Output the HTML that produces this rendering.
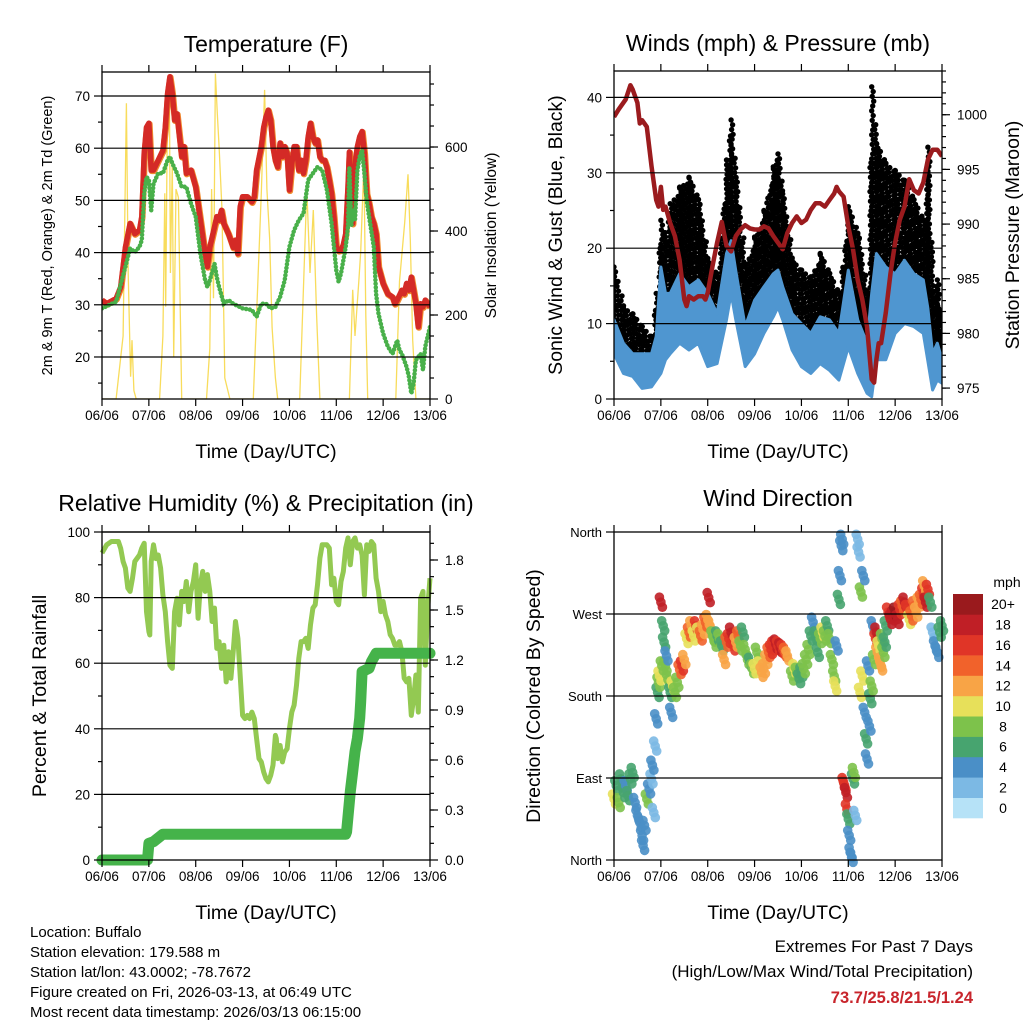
<!DOCTYPE html>
<html><head><meta charset="utf-8"><style>
html,body{margin:0;padding:0;background:#fff;}
svg{display:block;font-family:"Liberation Sans",sans-serif;}
</style></head><body>
<svg id="fig" width="1024" height="1024" viewBox="0 0 1024 1024" xmlns="http://www.w3.org/2000/svg">
<g font-size="15" fill="#000">
<text x="30" y="937">Location: Buffalo</text>
<text x="30" y="957">Station elevation: 179.588 m</text>
<text x="30" y="977">Station lat/lon: 43.0002; -78.7672</text>
<text x="30" y="997">Figure created on Fri, 2026-03-13, at 06:49 UTC</text>
<text x="30" y="1017">Most recent data timestamp: 2026/03/13 06:15:00</text>
</g>
<g text-anchor="end" font-size="17">
<text x="973" y="952">Extremes For Past 7 Days</text>
<text x="973" y="977">(High/Low/Max Wind/Total Precipitation)</text>
<text x="973" y="1003" font-weight="bold" fill="#c8252c" font-size="16.5">73.7/25.8/21.5/1.24</text>
</g>
</svg>
<script>
// ---------------- DATA ----------------
const dayLabels=["06/06","07/06","08/06","09/06","10/06","11/06","12/06","13/06"];
const tempT=[0,0.1,0.3,0.4,0.5,0.6,0.7,0.8,0.85,0.9,0.95,1.0,1.05,1.1,1.2,1.3,1.35,1.4,1.45,1.5,1.55,1.6,1.7,1.75,1.8,1.9,2.0,2.1,2.2,2.25,2.3,2.4,2.45,2.5,2.55,2.6,2.7,2.8,2.85,2.9,2.95,3.0,3.1,3.2,3.25,3.3,3.4,3.45,3.5,3.55,3.6,3.65,3.7,3.75,3.8,3.85,3.9,3.95,4.0,4.05,4.1,4.15,4.2,4.25,4.3,4.35,4.4,4.45,4.5,4.55,4.6,4.65,4.7,4.75,4.8,4.85,4.9,4.95,5.0,5.05,5.1,5.15,5.2,5.25,5.28,5.32,5.35,5.38,5.42,5.45,5.5,5.55,5.6,5.65,5.7,5.75,5.8,5.85,5.9,6.0,6.1,6.2,6.25,6.3,6.4,6.45,6.5,6.55,6.6,6.65,6.7,6.75,6.8,6.85,6.9,7.0];
const tempV=[30.9,30.2,31.2,33.4,41,45.6,43.6,44.3,46.9,59,64,64.8,55.8,55.8,57.7,59.6,64,70.5,73.7,70.5,65.4,66.6,58.4,60.3,55.2,55.8,52.6,46.2,39.8,37.3,41,44.9,46.9,46.2,48.1,45.6,43.6,41,42.4,39.8,48.8,50.7,50.7,49.7,50.7,55.8,60.3,64,66,67.3,65.4,60.3,57.7,56.4,61,58.4,60.3,59,52,57,60.3,60.3,55.8,57.7,55.2,57.7,62.2,64.8,62.2,61,61.6,58.4,57.7,57.7,56.4,53.9,51.3,46.9,41,40.4,40.5,41.5,43.6,52.6,59.3,51.3,45.6,52.6,58.4,60.3,62.2,63.2,59,51.3,49.4,46.9,45.6,43.6,37.3,34.1,32.1,31.5,30.2,30.9,32.8,32.1,34.1,32.8,35.3,32.8,30.2,25.8,30.2,29.6,30.9,29.6];
const dewT=[0,0.3,0.5,0.6,0.7,0.8,0.85,0.9,0.95,1.0,1.05,1.1,1.2,1.3,1.4,1.45,1.5,1.6,1.7,1.8,1.9,2.0,2.1,2.2,2.25,2.3,2.4,2.45,2.5,2.6,2.7,2.8,3.0,3.2,3.3,3.4,3.5,3.6,3.7,3.8,3.9,4.0,4.1,4.2,4.3,4.4,4.5,4.55,4.6,4.7,4.8,4.9,5.0,5.05,5.1,5.2,5.25,5.28,5.32,5.35,5.4,5.45,5.5,5.55,5.6,5.65,5.7,5.8,5.85,5.9,6.0,6.1,6.2,6.3,6.35,6.4,6.5,6.55,6.6,6.65,6.7,6.8,6.85,6.9,7.0];
const dewV=[29.3,30.6,37.3,40.8,40.1,41.1,42.4,51.3,54.5,53.9,48.1,53.2,55.2,55.2,57.7,58.4,57.1,55.2,52.6,52.6,49.4,46.9,39.8,34.7,33.4,34.7,37.9,35.3,33.4,30.2,30.9,30.2,29.3,29,27.7,30.2,30.2,29.3,29.6,31.5,34.7,41.1,44.3,46.2,47.5,53.9,55.2,55.8,56.4,55.8,52,45.6,36.6,34.4,36,41.1,45,56.4,45,48.1,46.2,55.8,58.4,59.6,55.2,50,46.9,41.1,32.1,28.3,24.5,22,20.6,23.2,21.3,20.6,18.1,16.2,13,14.9,19.4,20.6,17.5,22,25.8];
const solT=[0,0.3,0.45,0.52,0.56,0.61,0.64,0.68,0.73,1.23,1.3,1.34,1.36,1.4,1.44,1.46,1.5,1.53,1.58,1.63,1.7,2.23,2.3,2.34,2.38,2.42,2.46,2.5,2.56,2.62,2.73,3.23,3.4,3.47,3.52,3.58,3.63,3.7,3.75,4.22,4.37,4.44,4.51,4.58,4.65,5.28,5.35,5.4,5.48,5.52,5.59,5.63,5.67,6.27,6.35,6.46,6.53,6.58,6.63,6.7,7.0];
const solV=[0,0,150,704,300,53,140,20,0,0,150,490,220,740,696,300,560,100,500,480,0,0,120,500,240,775,680,600,450,50,0,0,490,736,500,380,170,50,0,0,500,300,450,200,0,0,260,150,280,350,560,200,0,0,280,420,535,380,140,0,0];
const windT=[0,0.2,0.4,0.6,0.8,0.9,1.0,1.1,1.2,1.4,1.6,1.8,2.0,2.2,2.4,2.5,2.6,2.8,3.0,3.2,3.4,3.5,3.6,3.8,4.0,4.2,4.4,4.6,4.8,5.0,5.2,5.4,5.5,5.6,5.8,6.0,6.2,6.4,6.6,6.7,6.8,6.9,7.0];
const windLow=[6,3.4,3,1.4,1.6,2.5,3.4,5.2,6,7.4,6.5,7.4,4.3,4.7,10.5,14,10.5,4.3,6,8.7,10.9,12.2,10.5,6.5,4.3,3.4,4.7,3.8,2.5,6.9,3.4,0.75,0.3,5.2,5.2,8.7,10,9.6,8.7,5,1.2,2.5,2.1];
const windHigh=[10.5,7.4,6,6,6,8.3,17.5,14,14,16.6,14.9,15.8,14,11.3,19.3,21,17,9.6,13.1,14.9,16.6,17.1,14.9,11.3,10,8.7,10.9,10.5,8.7,17.1,10.5,7.4,14,19.3,17.5,16.6,18.4,16.6,15.8,12,6,7.4,5.2];
const gustLow=[8,6,5,5,4,6,12,10,10,12,12,12,9,8,14,16,13,7,10,12,13,14,12,8,7,6,8,7,6,12,8,5,10,14,14,13,14,13,12,9,4,5,4];
const gustHigh=[17.5,12.2,11.3,9.6,8.3,14,23.7,21.5,25.9,28.1,29.4,26.4,18.4,16.6,31.7,37,29.4,17.5,21.5,25,30.8,32.5,27.2,18.4,17.1,16.2,19.3,16.6,14,25.5,21.9,14,41.4,33.9,31.2,30.3,29,26.4,23.7,33.4,14,15.8,9.6];
const presT=[0,0.1,0.25,0.35,0.4,0.5,0.55,0.6,0.7,0.8,0.9,0.95,1.0,1.05,1.1,1.2,1.3,1.4,1.5,1.55,1.6,1.7,1.8,1.9,1.95,2.0,2.1,2.2,2.3,2.4,2.5,2.6,2.7,2.8,2.9,3.0,3.1,3.2,3.3,3.4,3.5,3.6,3.7,3.8,3.9,4.0,4.1,4.2,4.3,4.4,4.5,4.6,4.7,4.75,4.8,4.9,5.0,5.1,5.2,5.3,5.4,5.5,5.55,5.6,5.65,5.7,5.8,5.9,6.0,6.1,6.2,6.3,6.4,6.5,6.6,6.7,6.8,6.9,7.0];
const presV=[999.8,1000.5,1001.4,1002.7,1002.3,1001.1,999.2,999.5,998.9,995.3,992.2,991.6,993.4,991.3,991.6,990.1,988.9,986.7,983.1,982.5,983.4,983.1,983.4,983.4,983.1,983.7,986.1,988.3,990.2,988,987.5,988.9,989.5,989.9,989.6,989.5,989.5,989.8,989.6,988.9,988.3,987.7,989.2,990.1,990.7,990.1,990.4,991.3,991.9,991.9,991.6,992.2,992.8,993.4,993,992.5,989.8,987.7,984.9,983.1,980.6,975.8,975.5,977.6,979.1,979.1,981.9,985.5,988.3,990.4,991.6,994.1,993.1,992.8,993.8,995.9,996.8,996.8,996.2];
const rhT=[0,0.1,0.2,0.35,0.4,0.45,0.5,0.55,0.6,0.65,0.7,0.8,0.85,0.9,0.95,1.0,1.02,1.05,1.1,1.15,1.2,1.25,1.3,1.35,1.4,1.45,1.5,1.55,1.6,1.65,1.7,1.75,1.8,1.85,1.9,1.95,2.0,2.05,2.1,2.15,2.2,2.25,2.3,2.35,2.4,2.45,2.5,2.55,2.6,2.65,2.7,2.75,2.8,2.85,2.9,3.0,3.05,3.1,3.15,3.2,3.25,3.3,3.35,3.4,3.45,3.5,3.55,3.6,3.65,3.7,3.72,3.75,3.8,3.85,3.9,3.95,4.0,4.05,4.1,4.15,4.2,4.25,4.3,4.35,4.4,4.45,4.5,4.55,4.6,4.65,4.7,4.8,4.85,4.9,4.95,5.0,5.05,5.1,5.15,5.2,5.25,5.3,5.35,5.4,5.45,5.5,5.55,5.6,5.65,5.7,5.75,5.8,5.85,5.9,5.95,6.0,6.05,6.1,6.15,6.2,6.25,6.3,6.35,6.4,6.45,6.5,6.55,6.6,6.65,6.7,6.75,6.8,6.85,6.9,6.95,7.0];
const rhV=[93.6,96.1,97.1,97.1,95,91,89,82.9,81.9,85.9,91,93,95.1,96.6,75.7,69.6,68.6,91,96.1,91.9,93,89,80.8,75.7,66.6,59.4,58.4,75.7,79.8,71.7,81.9,78.8,84.9,75.7,81.9,84.9,90,73.7,83.9,88,81.9,87,81.9,72.7,76.8,64.5,66.6,58.4,65.5,54.3,63.5,55.4,63.5,72.7,67.6,44.1,43.1,44.1,43.1,45.1,43.1,37,30.9,29.9,26.8,24.8,23.8,25.8,28.9,38,37,30.9,34.9,29.9,32.9,33.9,40,45.1,47.2,53.3,61.5,66.6,66.6,67.6,64.5,71.7,76.8,77.8,83.9,92,96.1,96.1,95.1,83.9,85.9,78.8,77.8,84.9,87.9,95.1,98.2,90,97.1,98.2,95.1,96.1,93,80.8,96.1,94.1,97.1,96.1,85.9,81.9,75.7,78.8,74.7,72.7,68.7,67.6,65.5,65.5,66.6,63.5,55.4,54.3,55.4,44.1,49.2,56.4,45.1,79.8,81.9,59.4,76.8,85.9];
const prT=[0,0.97,1.0,1.1,1.3,5.2,5.22,5.3,5.35,5.4,5.45,5.5,5.52,5.55,5.7,5.75,5.85,7.0];
const prV=[0,0,0.1,0.11,0.155,0.155,0.17,0.41,0.53,0.65,0.73,0.85,0.95,1.13,1.15,1.19,1.24,1.24];
const dirT=[0,0.05,0.1,0.15,0.2,0.25,0.3,0.35,0.4,0.45,0.5,0.55,0.6,0.62,0.65,0.7,0.75,0.8,0.82,0.85,0.88,0.9,0.93,0.95,0.97,1.0,1.02,1.05,1.07,1.1,1.12,1.15,1.2,1.22,1.25,1.3,1.35,1.4,1.45,1.5,1.55,1.6,1.65,1.7,1.75,1.8,1.85,1.9,1.95,2.0,2.02,2.05,2.1,2.15,2.2,2.25,2.3,2.35,2.4,2.45,2.5,2.55,2.6,2.65,2.7,2.75,2.8,2.85,2.9,2.95,3.0,3.05,3.1,3.15,3.2,3.25,3.3,3.35,3.4,3.45,3.5,3.55,3.6,3.65,3.7,3.8,3.85,3.9,3.95,4.0,4.05,4.1,4.15,4.2,4.25,4.3,4.35,4.4,4.45,4.5,4.55,4.6,4.65,4.7,4.72,4.75,4.8,4.82,4.85,4.87,4.9,4.92,4.95,4.97,5.0,5.02,5.05,5.07,5.1,5.12,5.15,5.2,5.22,5.25,5.27,5.3,5.32,5.35,5.38,5.4,5.42,5.45,5.47,5.5,5.52,5.55,5.58,5.6,5.62,5.65,5.68,5.7,5.72,5.75,5.78,5.8,5.85,5.9,5.95,6.0,6.05,6.1,6.15,6.2,6.25,6.3,6.35,6.4,6.45,6.5,6.55,6.6,6.62,6.65,6.7,6.75,6.8,6.85,6.9,6.95,7.0];
const dirV=[67,81.6,63,89,74,81.6,70.6,89,96,63,49,41,27,16,38,67,78,89,104,52,125,155,184,195,202,283,213,257,239,213,224,198,184,162,191,184,195,209,213,220,243,250,257,246,257,250,246,253,261,264,288,257,246,239,246,243,235,220,239,243,250,235,239,246,235,250,231,220,217,210,210,228,213,206,210,220,228,231,235,237,235,233,231,228,224,202,210,206,199,206,210,220,231,246,261,246,228,243,250,246,257,243,220,202,191,235,286,312,345,352,85,82,74,56,45,27,8,3,89,96,49,352,338,184,294,202,312,162,133,111,213,147,177,191,257,220,243,250,228,235,217,213,243,228,239,257,272,264,268,272,264,275,279,283,275,264,268,279,272,283,286,293,301,283,297,283,250,235,228,250,257];
const dirS=[9,6,8,6,5,4,6,6,5,4,4,4,4,4,4,7,4,2,3,2,2,3,6,8,9,18,7,6,6,8,4,8,6,4,10,8,8,14,15,12,10,14,12,10,15,10,14,12,14,12,18,12,8,7,6,8,6,12,14,16,18,16,12,14,8,6,8,8,6,8,10,8,10,11,12,12,14,15,16,17,16,17,15,14,12,8,10,8,6,6,8,8,7,5,4,5,6,8,9,8,6,8,7,8,9,3,6,4,4,4,15,16,18,15,6,4,4,3,6,8,2,1,2,10,8,10,4,4,5,4,4,4,6,8,3,8,16,18,12,10,11,12,8,8,6,6,16,18,17,19,18,16,14,18,16,10,14,14,12,12,14,16,12,18,16,6,2,4,3,6,6];
const speedColors=["#b6e2f7","#7cb9e4","#4a8fc7","#47a46f","#7dc24b","#e7e05a","#f8a446","#f1622b","#e03527","#c01f26","#9a1a1d"];
const speedLabels=["0","2","4","6","8","10","12","14","16","18","20+"];

// ---------------- RENDER ----------------
const NS="http://www.w3.org/2000/svg";
const svg=document.getElementById("fig");
function el(tag,attrs,parent){const e=document.createElementNS(NS,tag);for(const k in attrs)e.setAttribute(k,attrs[k]);(parent||svg).appendChild(e);return e;}
function lin(d0,d1,r0,r1){return v=>r0+(v-d0)*(r1-r0)/(d1-d0);}
function txt(x,y,s,attrs,parent){const t=el("text",Object.assign({x:x,y:y},attrs||{}),parent);t.textContent=s;return t;}
function pathFrom(ts,vs,X,Y){return ts.map((t,i)=>(i?"L":"M")+X(t).toFixed(1)+","+Y(vs[i]).toFixed(1)).join("");}

function frame(P,g){
  const X=lin(0,7,P.x0,P.x1);
  P.grid.forEach(v=>{const l=el("line",{x1:P.x0,x2:P.x1,y1:P.YL(v),y2:P.YL(v),stroke:"#000","stroke-width":1.2},g);
    
    });
  const ax=el("g",{stroke:"#000","stroke-width":1.2},g);
  
  
  for(let d=0;d<=7;d++){
    el("line",{x1:X(d),x2:X(d),y1:P.y1,y2:P.y1+7},ax);
    el("line",{x1:X(d),x2:X(d),y1:P.y0,y2:P.y0-7},ax);
    const t=txt(X(d),P.y1+21,dayLabels[d],{"text-anchor":"middle","font-size":13.5},g);
    
    
  }
  P.lMaj.forEach(v=>{el("line",{x1:P.x0-8,x2:P.x0,y1:P.YL(v),y2:P.YL(v)},ax);
    const t=txt(P.x0-12,P.YL(v)+5,P.lFmt(v),{"text-anchor":"end","font-size":P.lfs||13.5},g);
    
    });
  (P.lMin||[]).forEach(v=>el("line",{x1:P.x0-4,x2:P.x0,y1:P.YL(v),y2:P.YL(v)},ax));
  if(P.YR){
    P.rMaj.forEach(v=>{el("line",{x1:P.x1,x2:P.x1+8,y1:P.YR(v),y2:P.YR(v)},ax);
      const t=txt(P.x1+15,P.YR(v)+5,P.rFmt(v),{"font-size":13.5},g);
      
      });
    P.rMin.forEach(v=>el("line",{x1:P.x1,x2:P.x1+4,y1:P.YR(v),y2:P.YR(v)},ax));
  }
  const bx=el("rect",{x:P.x0,y:P.y0,width:P.x1-P.x0,height:P.y1-P.y0,fill:"none",stroke:"#000","stroke-width":1.3},g);
  
  
  const tt=txt((P.x0+P.x1)/2,P.y0-(P.titleOff||21),P.title,{"text-anchor":"middle","font-size":23},g);
  
  
  const xt=txt((P.x0+P.x1)/2,P.y1+59,"Time (Day/UTC)",{"text-anchor":"middle","font-size":19.5},g);
  
  
  const cy=(P.y0+P.y1)/2;
  const lt=txt(P.lx,cy,P.ltitle,{"text-anchor":"middle","font-size":P.ltfs||19.5,transform:`rotate(-90 ${P.lx} ${cy})`},g);
  
  
  if(P.rtitle){const rt=txt(P.rx,cy,P.rtitle,{"text-anchor":"middle","font-size":P.rtfs||19.5,transform:`rotate(-90 ${P.rx} ${cy})`},g);
    
    }
  return X;
}
function rng(a,b,s){const r=[];for(let v=a;v<=b+1e-9;v+=s)r.push(+v.toFixed(4));return r;}

// Panel 1 temperature
(function(){
  const g=el("g",{});
  
  
  const P={x0:102,x1:430,y0:72,y1:399,title:"Temperature (F)",titleOff:20,
    YL:lin(11.95,74.6,399,72),YR:lin(0,778.6,399,72),
    grid:[20,30,40,50,60,70],lMaj:[20,30,40,50,60,70],lMin:[15,25,35,45,55,65],lFmt:v=>v,
    rMaj:[0,200,400,600],rMin:rng(50,750,50),rFmt:v=>v,
    lx:52,ltitle:"2m & 9m T (Red, Orange) & 2m Td (Green)",ltfs:14.5,rx:496,rtitle:"Solar Insolation (Yellow)",rtfs:15.5};
  const clip=el("clipPath",{id:"c1"},g);el("rect",{x:P.x0,y:P.y0,width:328,height:327},clip);
  const X=lin(0,7,P.x0,P.x1);
  const d=el("g",{"clip-path":"url(#c1)"},g);
  const sol=el("path",{d:pathFrom(solT,solV,X,P.YR),fill:"none",stroke:"#f7d84a","stroke-width":1.3,opacity:0.9},d);
  
  
  const tp=pathFrom(tempT,tempV,X,P.YL);
  const or=el("path",{d:tp,fill:"none",stroke:"#f08a2e","stroke-width":6.5,"stroke-linejoin":"round",transform:"translate(0.5,0.8)"},d);
  
  
  const rd=el("path",{d:tp,fill:"none",stroke:"#d42a26","stroke-width":5.5,"stroke-linejoin":"round"},d);
  
  
  const dw=el("path",{d:pathFrom(dewT,dewV,X,P.YL),fill:"none",stroke:"#49b04a","stroke-width":4.5,"stroke-linecap":"round","stroke-dasharray":"0.1 3.6"},d);
  
  
  frame(P,g);
})();

// Panel 2 winds
(function(){
  const g=el("g",{});
  
  
  const P={x0:614,x1:942,y0:71,y1:399,title:"Winds (mph) & Pressure (mb)",titleOff:20,
    YL:lin(0,43.5,399,71),YR:lin(974,1004,399,71),
    grid:[10,20,30,40],lMaj:[0,10,20,30,40],lMin:[5,15,25,35],lFmt:v=>v,
    rMaj:[975,980,985,990,995,1000],rMin:rng(975,1004,1),rFmt:v=>v,
    lx:562,ltitle:"Sonic Wind & Gust (Blue, Black)",rx:1019,rtitle:"Station Pressure (Maroon)"};
  const X=lin(0,7,P.x0,P.x1);
  const clip=el("clipPath",{id:"c2"},g);el("rect",{x:P.x0,y:P.y0-4,width:328,height:332},clip);
  const d=el("g",{"clip-path":"url(#c2)"},g);
  const gg=el("g",{fill:"#000"},d);
  
  
  for(let i=0;i<windT.length-1;i++){
    const xa=X(windT[i]),xb=X(windT[i+1]);
    for(let x=xa,k=0;x<xb;x+=3,k++){
      const f=(x-xa)/(xb-xa);
      const lo=gustLow[i]+(gustLow[i+1]-gustLow[i])*f, hi=gustHigh[i]+(gustHigh[i+1]-gustHigh[i])*f;
      const ylo=P.YL(lo),yhi=P.YL(hi);
      const off=((k*37)%11)/11*4.5;
      for(let y=yhi+off,j=0;y<=ylo;y+=4.8,j++){el("circle",{cx:(x+((j*13+k*7)%5)*0.5).toFixed(1),cy:y.toFixed(1),r:2.7},gg);}
    }
  }
  const up=windT.map((t,i)=>X(t).toFixed(1)+","+P.YL(windHigh[i]).toFixed(1));
  const dn=windT.map((t,i)=>X(t).toFixed(1)+","+P.YL(windLow[i]).toFixed(1)).reverse();
  const bw=el("polygon",{points:up.concat(dn).join(" "),fill:"#4f96d0",stroke:"#4f96d0","stroke-width":3,"stroke-linejoin":"round"},d);
  
  
  const pr=el("path",{d:pathFrom(presT,presV,X,P.YR),fill:"none",stroke:"#9b1b1e","stroke-width":4.5,"stroke-linejoin":"round"},d);
  
  
  frame(P,g);
})();

// Panel 3 RH & precipitation
(function(){
  const g=el("g",{});
  
  
  const P={x0:102,x1:430,y0:532,y1:860,title:"Relative Humidity (%) & Precipitation (in)",titleOff:21,
    YL:lin(0,100,860,532),YR:lin(0,1.968,860,532),
    grid:[20,40,60,80,100],lMaj:[0,20,40,60,80,100],lMin:[10,30,50,70,90],lFmt:v=>v,
    rMaj:[0,0.3,0.6,0.9,1.2,1.5,1.8],rMin:rng(0.1,1.9,0.1),rFmt:v=>v.toFixed(1),
    lx:46,ltitle:"Percent & Total Rainfall"};
  const X=lin(0,7,P.x0,P.x1);
  const clip=el("clipPath",{id:"c3"},g);el("rect",{x:P.x0-6,y:P.y0,width:344,height:334},clip);
  const d=el("g",{"clip-path":"url(#c3)"},g);
  const rh=el("path",{d:pathFrom(rhT,rhV,X,P.YL),fill:"none",stroke:"#93c952","stroke-width":5,"stroke-linejoin":"round"},d);
  
  
  const pp=el("path",{d:pathFrom(prT,prV,X,P.YR),fill:"none",stroke:"#45b34a","stroke-width":11,"stroke-linejoin":"round","stroke-linecap":"round"},d);
  
  
  frame(P,g);
})();

// Panel 4 wind direction
(function(){
  const g=el("g",{});
  
  
  const names={0:"North",90:"East",180:"South",270:"West",360:"North"};
  const P={x0:614,x1:942,y0:532,y1:860,title:"Wind Direction",titleOff:26,
    YL:lin(0,360,860,532),grid:[90,180,270],lMaj:[0,90,180,270,360],lFmt:v=>names[v],lfs:13,
    lx:540,ltitle:"Direction (Colored By Speed)"};
  const X=lin(0,7,P.x0,P.x1);
  const d=el("g",{},g);
  
  
  dirT.forEach((t,i)=>{
    const ci=Math.min(10,Math.max(0,Math.round(dirS[i]/2)));
    const cx=X(t),cy=P.YL(dirV[i]);
    [-5,0,5].forEach(o=>{
      const c=el("circle",{cx:(cx+o*0.3).toFixed(1),cy:(cy+o).toFixed(1),r:4.8,fill:speedColors[ci],opacity:0.9},d);
      
      
    });
  });
  frame(P,g);
  const cb=el("g",{},g);
  
  
  const bh=224/11;
  speedColors.forEach((c,i)=>{const y=818-(i+1)*bh;
    const r=el("rect",{x:953,y:y.toFixed(1),width:30,height:(bh+0.3).toFixed(1),fill:c},cb);
    
    
    const t=txt(1003,y+bh/2+5,speedLabels[i],{"text-anchor":"middle","font-size":14},cb);
    
    });
  const m=txt(1007,587,"mph",{"text-anchor":"middle","font-size":14},cb);
  
  
})();
</script>
</body></html>
